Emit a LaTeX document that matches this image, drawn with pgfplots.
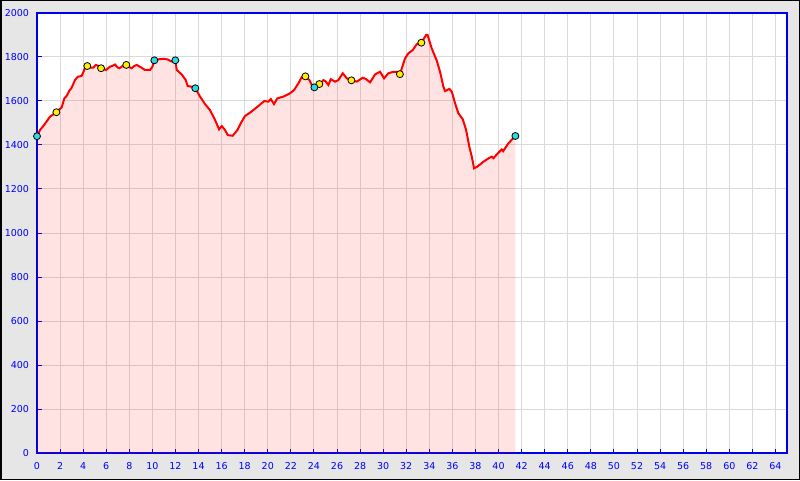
\documentclass[border=0pt]{standalone}
\usepackage{pgfplots}
\pgfplotsset{compat=1.18}
\usepackage{fontspec}
\setmainfont{DejaVu Sans}
\definecolor{bgrey}{RGB}{230,230,230}
\definecolor{gridgrey}{RGB}{218,218,218}
\definecolor{axblue}{RGB}{0,0,230}
\definecolor{lblblue}{RGB}{0,0,255}
\definecolor{myyellow}{RGB}{255,240,0}
\definecolor{mycyan}{RGB}{40,220,230}
\begin{document}
\begin{tikzpicture}[x=1pt,y=1pt]
\useasboundingbox (0,0) rectangle (800,480);
\fill[bgrey] (0,0) rectangle (800,480);
\draw[black,line width=1.5pt] (0.75,0.75) rectangle (799.25,479.25);
\fill[white] (37,27) rectangle (787,467);
\begin{axis}[
  at={(37pt,27pt)}, anchor=south west,
  scale only axis, width=750pt, height=440pt,
  xmin=0, xmax=65, ymin=0, ymax=2000,
  xtick={0,2,...,64}, ytick={0,200,...,2000},
  tick pos=left, tick align=inside,
  major tick length=4.5pt,
  every tick/.style={axblue, line width=1pt},
  axis line style={axblue, line width=1.3pt},
  grid=major,
  major grid style={gridgrey, line width=1pt},
  font=\fontsize{9.5}{11}\selectfont,
  /pgf/number format/assume math mode=true,
  /pgf/number format/1000 sep={},
  ticklabel style={lblblue},
  xticklabel shift=6pt,
  yticklabel shift=4.5pt,
  clip=false,
]
\addplot[draw=none, fill=red, fill opacity=0.11] table {
x y
0 1440
0.26 1468
0.6 1490
1.13 1529
1.68 1549
1.9 1560
2.14 1571
2.37 1612
2.6 1625
2.8 1647
3.0 1660
3.29 1695
3.52 1710
3.87 1714
4.16 1749
4.36 1759
4.6 1752
4.88 1752
5.1 1764
5.32 1760
5.55 1749
5.98 1741
6.33 1756
6.55 1760
6.76 1766
7.0 1752
7.14 1749
7.45 1760
7.74 1764
7.95 1755
8.2 1749
8.4 1758
8.64 1764
9.07 1751
9.36 1741
9.8 1741
10.0 1755
10.17 1785
10.6 1790
10.95 1792
11.3 1789
11.65 1780
11.99 1785
12.11 1741
12.54 1721
12.89 1695
13.06 1668
13.41 1665
13.72 1658
14.13 1620
14.56 1586
14.99 1559
15.43 1514
15.78 1471
16.01 1486
16.3 1468
16.53 1445
16.96 1442
17.37 1468
17.66 1499
18.03 1532
18.46 1547
19.04 1571
19.7 1600
20.05 1597
20.26 1609
20.54 1586
20.83 1612
21.35 1620
21.93 1635
22.28 1650
22.65 1680
22.94 1708
23.26 1712
23.6 1695
23.81 1673
24.04 1662
24.2 1672
24.47 1677
24.82 1695
25.0 1690
25.25 1673
25.46 1699
25.83 1688
26.12 1695
26.5 1726
26.85 1703
27.25 1694
27.71 1688
28.23 1706
28.5 1700
28.87 1685
29.3 1721
29.73 1733
30.08 1703
30.45 1726
30.83 1732
31.2 1733
31.45 1722
31.9 1794
32.19 1817
32.57 1832
32.91 1858
33.31 1865
33.72 1900
33.85 1900
34.21 1839
34.65 1783
34.93 1733
35.22 1665
35.37 1645
35.74 1655
35.95 1642
36.23 1590
36.52 1544
36.9 1517
37.19 1468
37.47 1392
37.68 1347
37.88 1294
38.17 1302
38.69 1324
39.12 1339
39.42 1347
39.56 1340
39.99 1365
40.28 1380
40.4 1372
40.86 1408
41.46 1441
} \closedcycle;
\addplot[red, line width=2pt] table {
x y
0 1440
0.26 1468
0.6 1490
1.13 1529
1.68 1549
1.9 1560
2.14 1571
2.37 1612
2.6 1625
2.8 1647
3.0 1660
3.29 1695
3.52 1710
3.87 1714
4.16 1749
4.36 1759
4.6 1752
4.88 1752
5.1 1764
5.32 1760
5.55 1749
5.98 1741
6.33 1756
6.55 1760
6.76 1766
7.0 1752
7.14 1749
7.45 1760
7.74 1764
7.95 1755
8.2 1749
8.4 1758
8.64 1764
9.07 1751
9.36 1741
9.8 1741
10.0 1755
10.17 1785
10.6 1790
10.95 1792
11.3 1789
11.65 1780
11.99 1785
12.11 1741
12.54 1721
12.89 1695
13.06 1668
13.41 1665
13.72 1658
14.13 1620
14.56 1586
14.99 1559
15.43 1514
15.78 1471
16.01 1486
16.3 1468
16.53 1445
16.96 1442
17.37 1468
17.66 1499
18.03 1532
18.46 1547
19.04 1571
19.7 1600
20.05 1597
20.26 1609
20.54 1586
20.83 1612
21.35 1620
21.93 1635
22.28 1650
22.65 1680
22.94 1708
23.26 1712
23.6 1695
23.81 1673
24.04 1662
24.2 1672
24.47 1677
24.82 1695
25.0 1690
25.25 1673
25.46 1699
25.83 1688
26.12 1695
26.5 1726
26.85 1703
27.25 1694
27.71 1688
28.23 1706
28.5 1700
28.87 1685
29.3 1721
29.73 1733
30.08 1703
30.45 1726
30.83 1732
31.2 1733
31.45 1722
31.9 1794
32.19 1817
32.57 1832
32.91 1858
33.31 1865
33.72 1900
33.85 1900
34.21 1839
34.65 1783
34.93 1733
35.22 1665
35.37 1645
35.74 1655
35.95 1642
36.23 1590
36.52 1544
36.9 1517
37.19 1468
37.47 1392
37.68 1347
37.88 1294
38.17 1302
38.69 1324
39.12 1339
39.42 1347
39.56 1340
39.99 1365
40.28 1380
40.4 1372
40.86 1408
41.46 1441
};
\addplot[only marks, mark=*, mark size=3.5pt, mark options={fill=myyellow, draw=black, line width=0.8pt}] table {
x y
1.68 1549
4.36 1759
5.55 1749
7.74 1764
23.26 1712
24.47 1677
27.25 1694
31.45 1722
33.31 1865
};
\addplot[only marks, mark=*, mark size=3.5pt, mark options={fill=mycyan, draw=black, line width=0.8pt}] table {
x y
0 1440
10.17 1785
11.99 1785
13.72 1658
24.04 1662
41.46 1441
};
\end{axis}
\end{tikzpicture}
\end{document}
